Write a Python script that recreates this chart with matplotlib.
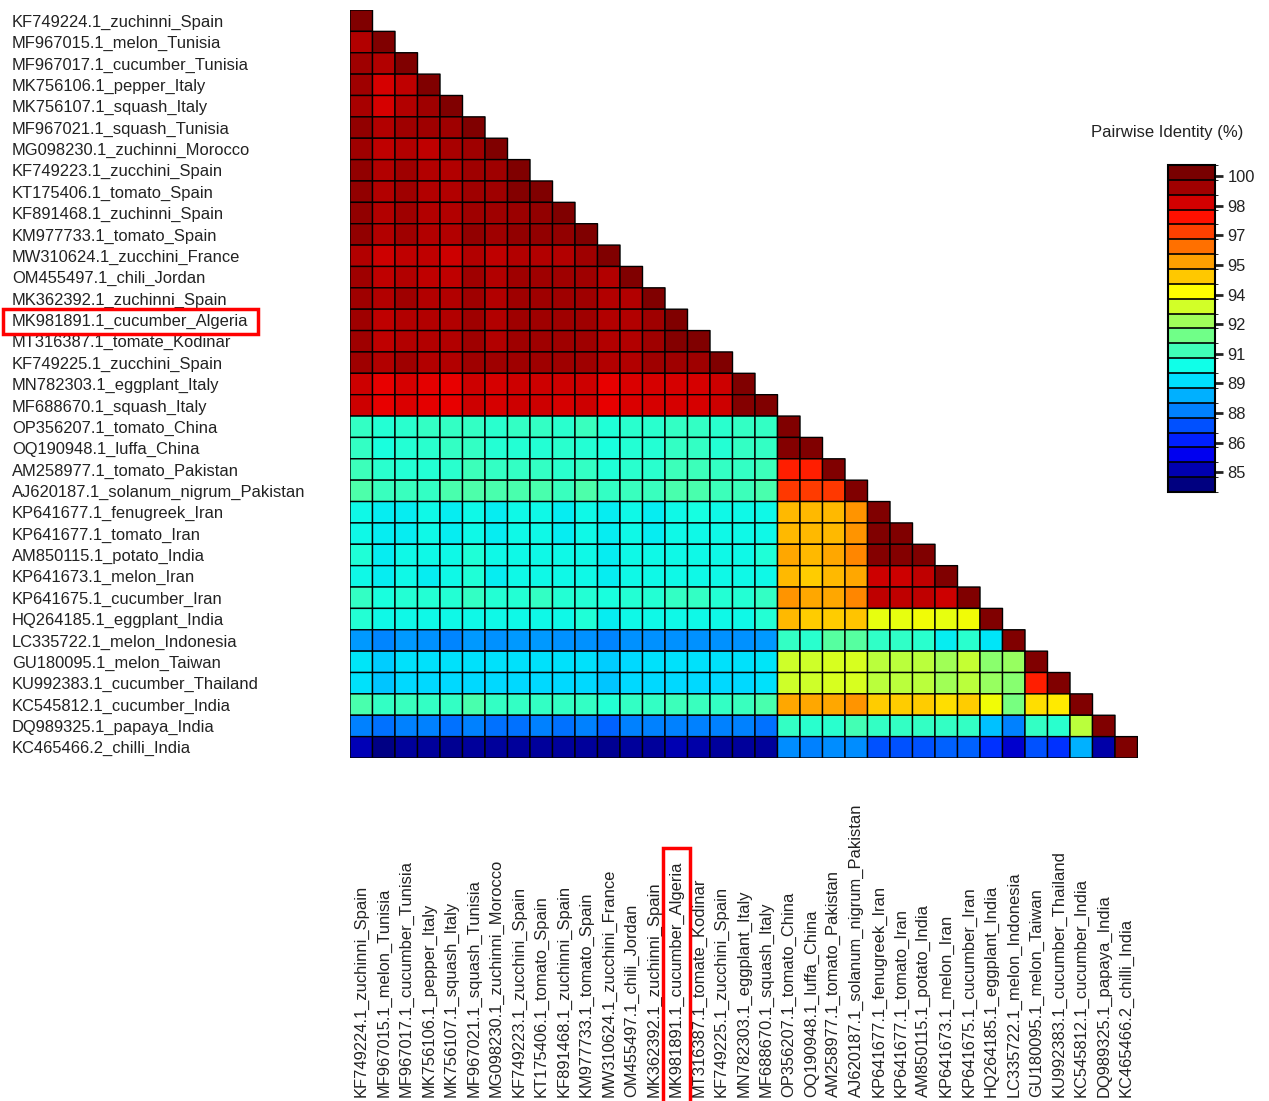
import numpy as np
import matplotlib
matplotlib.use("Agg")
import matplotlib.pyplot as plt
from matplotlib.colors import BoundaryNorm, ListedColormap
from matplotlib.cm import ScalarMappable
from matplotlib.patches import Rectangle

plt.rcParams['font.family'] = ['Liberation Sans', 'DejaVu Sans']

labels = [
    "KF749224.1_zuchinni_Spain", "MF967015.1_melon_Tunisia", "MF967017.1_cucumber_Tunisia",
    "MK756106.1_pepper_Italy", "MK756107.1_squash_Italy", "MF967021.1_squash_Tunisia",
    "MG098230.1_zuchinni_Morocco", "KF749223.1_zucchini_Spain", "KT175406.1_tomato_Spain",
    "KF891468.1_zuchinni_Spain", "KM977733.1_tomato_Spain", "MW310624.1_zucchini_France",
    "OM455497.1_chili_Jordan", "MK362392.1_zuchinni_Spain", "MK981891.1_cucumber_Algeria",
    "MT316387.1_tomate_Kodinar", "KF749225.1_zucchini_Spain", "MN782303.1_eggplant_Italy",
    "MF688670.1_squash_Italy", "OP356207.1_tomato_China", "OQ190948.1_luffa_China",
    "AM258977.1_tomato_Pakistan", "AJ620187.1_solanum_nigrum_Pakistan", "KP641677.1_fenugreek_Iran",
    "KP641677.1_tomato_Iran", "AM850115.1_potato_India", "KP641673.1_melon_Iran",
    "KP641675.1_cucumber_Iran", "HQ264185.1_eggplant_India", "LC335722.1_melon_Indonesia",
    "GU180095.1_melon_Taiwan", "KU992383.1_cucumber_Thailand", "KC545812.1_cucumber_India",
    "DQ989325.1_papaya_India", "KC465466.2_chilli_India",
]
highlight = "MK981891.1_cucumber_Algeria"

# pairwise identity (%), lower triangle, first 19 sequences
ident_top = [
    [100],
    [99.3, 100],
    [99.5, 99.3, 100],
    [99.5, 98.8, 99.1, 100],
    [99.4, 98.8, 99.3, 99.5, 100],
    [99.7, 99.3, 99.5, 99.5, 99.5, 100],
    [99.5, 99.1, 99.3, 99.1, 99.4, 99.5, 100],
    [99.7, 99.3, 99.5, 99.3, 99.3, 99.5, 99.5, 100],
    [99.7, 99.3, 99.5, 99.3, 99.3, 99.5, 99.5, 99.9, 100],
    [99.7, 99.3, 99.5, 99.3, 99.3, 99.5, 99.5, 99.6, 99.7, 100],
    [99.7, 99.3, 99.5, 99.3, 99.3, 99.7, 99.5, 99.7, 99.7, 99.7, 100],
    [99.3, 98.9, 99.1, 99.1, 98.9, 99.3, 99.1, 99.3, 99.3, 99.3, 99.5, 100],
    [99.5, 99.1, 99.3, 99.1, 99.1, 99.5, 99.3, 99.5, 99.5, 99.5, 99.5, 99.3, 100],
    [99.5, 99.3, 99.5, 99.3, 99.3, 99.5, 99.3, 99.5, 99.5, 99.5, 99.5, 99.3, 99.3, 100],
    [99.5, 99.1, 99.3, 99.3, 99.3, 99.5, 99.3, 99.5, 99.5, 99.5, 99.5, 99.3, 99.3, 99.5, 100],
    [99.5, 99.1, 99.3, 99.3, 99.3, 99.5, 99.3, 99.5, 99.5, 99.5, 99.5, 99.3, 99.3, 99.5, 99.9, 100],
    [99.5, 99.3, 99.5, 99.3, 99.3, 99.5, 99.5, 99.5, 99.5, 99.5, 99.5, 99.3, 99.3, 99.5, 99.5, 99.5, 100],
    [98.9, 98.5, 98.8, 98.6, 98.5, 98.9, 98.8, 98.9, 98.9, 98.9, 98.9, 98.5, 98.7, 98.8, 98.8, 98.8, 98.9, 100],
    [98.9, 98.5, 98.7, 98.6, 98.5, 98.9, 98.8, 98.9, 98.9, 98.8, 98.9, 98.5, 98.7, 98.8, 98.8, 98.8, 98.9, 99.9, 100],
]

# sequences 20-35 against the first 19
ident_low_left = [
    [90.6, 90.3, 90.4, 90.6, 90.6, 90.6, 90.4, 90.6, 90.6, 90.4, 90.7, 90.2, 90.4, 90.4, 90.6, 90.6, 90.4, 90.6, 90.6],
    [90.6, 90.1, 90.3, 90.4, 90.6, 90.6, 90.3, 90.3, 90.3, 90.4, 90.3, 90.1, 90.3, 90.3, 90.6, 90.6, 90.3, 90.6, 90.6],
    [90.8, 90.4, 90.3, 90.3, 90.4, 90.8, 90.6, 90.6, 90.6, 90.4, 90.6, 90.2, 90.4, 90.4, 90.8, 90.8, 90.6, 90.6, 90.8],
    [91.1, 90.7, 90.7, 90.6, 91.0, 91.1, 91.0, 91.0, 91.0, 90.7, 91.1, 90.6, 90.7, 90.7, 91.0, 91.0, 90.8, 90.8, 91.0],
    [89.9, 89.7, 89.7, 89.9, 89.7, 89.9, 89.7, 89.9, 89.9, 89.7, 89.9, 89.7, 89.9, 89.7, 89.9, 90.0, 89.9, 89.9, 89.9],
    [89.9, 89.7, 89.7, 89.9, 89.7, 89.9, 89.7, 89.9, 89.9, 89.7, 89.9, 89.7, 89.9, 89.7, 89.9, 89.9, 89.9, 89.9, 89.9],
    [90.2, 89.7, 89.9, 89.9, 89.9, 90.2, 89.9, 89.9, 89.9, 89.9, 89.9, 89.7, 89.9, 89.9, 89.9, 89.9, 89.9, 89.9, 90.2],
    [89.9, 89.7, 89.9, 89.7, 89.9, 90.2, 89.7, 89.9, 89.9, 89.9, 89.9, 89.7, 89.9, 89.9, 89.9, 89.9, 89.9, 89.9, 89.9],
    [90.6, 90.1, 90.3, 90.3, 90.3, 90.6, 90.3, 90.3, 90.6, 90.3, 90.3, 90.1, 90.3, 90.3, 90.6, 90.6, 90.3, 90.3, 90.6],
    [90.3, 89.9, 89.9, 89.9, 89.9, 89.9, 89.9, 89.9, 89.9, 89.9, 90.2, 89.7, 89.9, 89.9, 89.9, 89.9, 89.9, 89.9, 90.3],
    [88.4, 88.1, 88.4, 88.3, 88.1, 88.4, 88.3, 88.4, 88.4, 88.3, 88.3, 88.1, 88.3, 88.3, 88.3, 88.3, 88.3, 88.3, 88.4],
    [89.6, 89.2, 89.5, 89.5, 89.5, 89.5, 89.5, 89.5, 89.5, 89.5, 89.5, 89.2, 89.4, 89.5, 89.5, 89.5, 89.5, 89.5, 89.6],
    [89.5, 89.1, 89.4, 89.4, 89.4, 89.4, 89.4, 89.4, 89.4, 89.4, 89.4, 89.1, 89.4, 89.4, 89.4, 89.4, 89.4, 89.4, 89.5],
    [91.0, 90.6, 90.7, 90.6, 90.6, 91.0, 90.6, 90.6, 90.6, 90.6, 90.6, 90.3, 90.6, 90.6, 90.8, 90.7, 90.6, 90.7, 91.0],
    [88.0, 87.8, 88.0, 88.0, 87.8, 88.0, 87.8, 87.8, 88.0, 87.8, 88.0, 87.5, 88.0, 88.0, 88.0, 88.0, 88.0, 88.0, 87.8],
    [84.8, 84.1, 84.4, 84.4, 84.3, 84.4, 84.4, 84.4, 84.4, 84.4, 84.4, 84.3, 84.4, 84.4, 84.7, 84.6, 84.4, 84.4, 84.4],
]

# sequences 20-35 among themselves
ident_low_right = [
    [100],
    [99.9, 100],
    [98.0, 98.0, 100],
    [97.6, 97.5, 97.6, 100],
    [95.4, 95.4, 95.4, 96.0, 100],
    [95.4, 95.4, 95.4, 96.0, 100, 100],
    [95.7, 95.4, 95.7, 96.3, 99.9, 99.9, 100],
    [95.4, 95.1, 95.4, 95.7, 98.9, 98.9, 99.1, 100],
    [96.0, 95.7, 95.7, 96.3, 99.1, 99.1, 99.1, 98.9, 100],
    [95.4, 95.1, 95.1, 95.2, 94.1, 94.1, 94.3, 94.1, 94.3, 100],
    [90.6, 90.4, 91.3, 91.3, 90.5, 90.5, 90.4, 89.7, 90.4, 89.6, 100],
    [93.6, 93.6, 93.8, 93.8, 93.2, 93.2, 93.2, 92.7, 93.4, 92.3, 92.5, 100],
    [93.6, 93.6, 93.8, 93.8, 93.2, 93.2, 93.2, 92.7, 93.2, 92.5, 92.2, 98.0, 100],
    [95.7, 95.7, 95.7, 96.0, 95.1, 95.1, 95.1, 94.8, 95.1, 94.3, 91.9, 94.8, 94.6, 100],
    [90.6, 90.4, 90.4, 90.9, 90.6, 90.6, 90.6, 90.6, 90.6, 89.0, 88.0, 90.6, 90.4, 93.2, 100],
    [88.2, 88.0, 88.2, 88.2, 87.3, 87.3, 87.3, 87.5, 87.5, 86.8, 85.1, 87.3, 86.8, 88.8, 84.6, 100],
]

cbar_ticks = [85, 86.5, 88, 89.5, 91, 92.5, 94, 95.5, 97, 98.5, 100]
cbar_ticklabels = ["85", "86", "88", "89", "91", "92", "94", "95", "97", "98", "100"]

# 22 key bands, low to high
band_colors = [
    "#000080", "#0000b0", "#0000f0", "#0020ff", "#0050ff", "#0080ff", "#00b0ff", "#00e0ff",
    "#10ffe8", "#40ffb8", "#70ff88", "#a0ff5a", "#d2ff28", "#ffff00", "#ffc800", "#ffa000",
    "#ff7000", "#ff4000", "#ff1000", "#d20000", "#a00000", "#780000",
]

n = len(labels)
n_top = len(ident_top)
mat = np.full((n, n), np.nan)
for i, row in enumerate(ident_top):
    mat[i, :len(row)] = row
for k, (left, right) in enumerate(zip(ident_low_left, ident_low_right)):
    i = n_top + k
    mat[i, :n_top] = left
    mat[i, n_top:n_top + len(right)] = right

W, H = 1269, 1101
fig = plt.figure(figsize=(W / 100, H / 100), dpi=100)
txt_color = "#222222"
fs = 11.85

ax = fig.add_axes([350 / W, 1 - 758 / H, 787.5 / W, 748 / H])
# pcolor leaves out masked cells entirely, so the upper triangle stays blank
ax.pcolor(np.ma.masked_invalid(mat), cmap="jet", vmin=84, vmax=100,
          edgecolors="black", linewidth=1.0)
ax.set_xlim(0, n)
ax.set_ylim(n, 0)
for s in ax.spines.values():
    s.set_visible(False)

ax.set_yticks(np.arange(n) + 0.5)
ax.set_yticklabels(labels, ha="left", fontsize=fs, color=txt_color)
ax.tick_params(axis="y", length=0, pad=(350 - 12) * 0.72)

ax.set_xticks(np.arange(n) + 0.5)
ax.set_xticklabels(labels, rotation=90, va="bottom", ha="center", fontsize=fs, color=txt_color)
ax.tick_params(axis="x", length=0, pad=(1097 - 758) * 0.72)

# colour key
cax = fig.add_axes([1168 / W, 1 - 492 / H, 47 / W, 327 / H])
bounds = np.linspace(84, 100.56, 23)
sm = ScalarMappable(norm=BoundaryNorm(bounds, 22), cmap=ListedColormap(band_colors))
cb = fig.colorbar(sm, cax=cax, drawedges=True)
cb.set_ticks(cbar_ticks)
cb.set_ticklabels(cbar_ticklabels)
cb.outline.set_linewidth(1.5)
cb.dividers.set_color("black")
cb.dividers.set_linewidth(1.2)
cax.tick_params(length=6, width=2, labelsize=fs, pad=3, colors=txt_color)
fig.text(1167 / W, 1 - 133 / H, "Pairwise Identity (%)", ha="center", va="center",
         fontsize=12, color=txt_color)

# red boxes around the highlighted isolate
fig.canvas.draw()
renderer = fig.canvas.get_renderer()
idx = labels.index(highlight)
bb = ax.get_yticklabels()[idx].get_window_extent(renderer)
fig.patches.append(Rectangle((3, bb.y0 - 5), bb.x1 + 9 - 3, bb.height + 10,
                             transform=None, fill=False, ec="red", lw=2.5))
bb = ax.get_xticklabels()[idx].get_window_extent(renderer)
fig.patches.append(Rectangle((bb.x0 - 6, -5), bb.width + 12, bb.y1 + 12 + 5,
                             transform=None, fill=False, ec="red", lw=2.5))

fig.savefig("out.png", dpi=100)
